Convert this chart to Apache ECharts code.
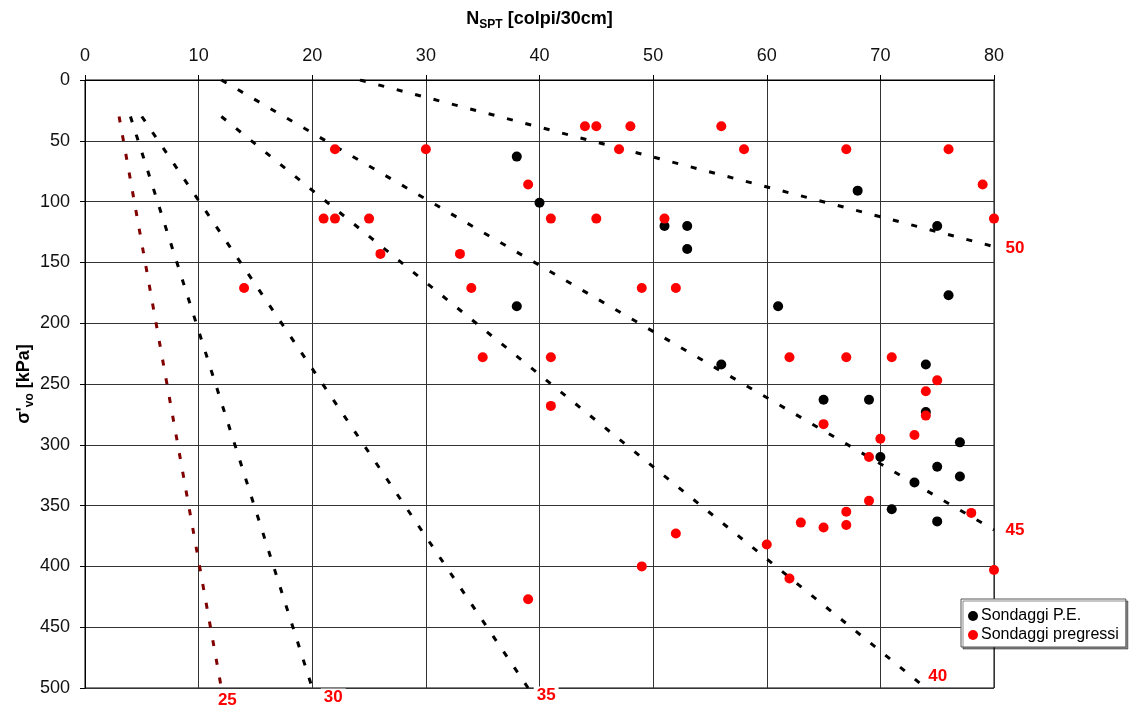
<!DOCTYPE html>
<html>
<head>
<meta charset="utf-8">
<title>NSPT - sigma'vo</title>
<script src="https://cdn.jsdelivr.net/npm/echarts@6.0.0/dist/echarts.min.js"></script>
<style>
  html, body { margin: 0; padding: 0; background: #fff; }
  #chart { width: 1129px; height: 708px; }
</style>
</head>
<body>
<div id="chart"></div>
<script>
// Axis ticks
const xTicks = [0, 10, 20, 30, 40, 50, 60, 70, 80];       // N_SPT
const yTicks = [0, 50, 100, 150, 200, 250, 300, 350, 400, 450, 500]; // sigma'vo [kPa]

// Sondaggi P.E. : [N_SPT, sigma'vo]
const sondaggiPE = [
  [38, 63], [40, 101], [68, 91], [51, 120], [53, 120], [53, 139], [75, 120],
  [76, 177], [38, 186], [61, 186], [56, 234], [74, 234], [65, 263], [69, 263],
  [74, 273], [77, 298], [70, 310], [75, 318], [77, 326], [73, 331], [71, 353],
  [75, 363]
];

// Sondaggi pregressi : [N_SPT, sigma'vo]
const sondaggiPregressi = [
  [44, 38], [45, 38], [48, 38], [56, 38],
  [22, 57], [30, 57], [47, 57], [58, 57], [67, 57], [76, 57],
  [39, 86], [79, 86],
  [21, 114], [22, 114], [25, 114], [41, 114], [45, 114], [51, 114], [80, 114],
  [26, 143], [33, 143],
  [14, 171], [34, 171], [49, 171], [52, 171],
  [35, 228], [41, 228], [62, 228], [67, 228], [71, 228],
  [75, 247], [74, 256], [41, 268], [74, 276], [65, 283], [73, 292], [70, 295],
  [69, 310], [69, 346], [67, 355], [78, 356], [63, 364], [67, 366], [65, 368],
  [52, 373], [60, 382], [49, 400], [80, 403], [62, 410], [39, 427]
];

// Friction angle reference lines : [N_SPT, sigma'vo]
const phiValues = [25, 30, 35, 40, 45, 50];
const phi25 = [[3, 30], [12, 500]];
const phi30 = [[4, 30], [20, 500]];
const phi35 = [[5, 30], [39, 500]];
const phi40 = [[12, 30], [74, 500]];
const phi45 = [[12, 0], [80, 370]];
const phi50 = [[24.2, 0], [80, 137]];
const phiCurves = [phi25, phi30, phi35, phi40, phi45, phi50];

// Presentation of each reference line and its angle label
const phiColors = ['#800000', '#000000', '#000000', '#000000', '#000000', '#000000'];
const phiLabelOffsets = [[6, 12], [21, 9], [18, 7], [12, -12], [21, 0], [21, 2]];

const FONT = "'Liberation Sans', Arial, Helvetica, sans-serif";

const chart = echarts.init(document.getElementById('chart'), null, { renderer: 'canvas' });

const series = [];

phiCurves.forEach((curve, i) => {
  series.push({
    name: 'phi ' + phiValues[i],
    type: 'line',
    data: curve,
    showSymbol: false,
    symbol: 'none',
    silent: true,
    clip: true,
    z: 3,
    lineStyle: { color: phiColors[i], width: 3, type: [6, 13], opacity: 1 }
  });
});

phiCurves.forEach((curve, i) => {
  series.push({
    name: 'label ' + phiValues[i],
    type: 'scatter',
    data: [curve[curve.length - 1]],
    symbolSize: 0,
    silent: true,
    clip: false,
    z: 6,
    itemStyle: { opacity: 1 },
    label: {
      show: true,
      formatter: String(phiValues[i]),
      position: phiLabelOffsets[i],
      align: 'center',
      verticalAlign: 'middle',
      color: '#ff0000',
      opacity: 1,
      fontFamily: FONT,
      fontWeight: 'bold',
      fontSize: 17,
      backgroundColor: '#ffffff',
      padding: [0, 3]
    }
  });
});

series.push({
  name: 'Sondaggi P.E.',
  type: 'scatter',
  data: sondaggiPE,
  symbol: 'circle',
  symbolSize: 10,
  z: 4,
  itemStyle: { color: '#000000', opacity: 1 }
});

series.push({
  name: 'Sondaggi pregressi',
  type: 'scatter',
  data: sondaggiPregressi,
  symbol: 'circle',
  symbolSize: 10,
  z: 5,
  itemStyle: { color: '#ff0000', opacity: 1 }
});

const gridLine = { show: true, lineStyle: { color: '#333333', width: 1 } };

const titleRich = {
  m: { fontFamily: FONT, fontWeight: 'bold', fontSize: 18, lineHeight: 21, verticalAlign: 'top', color: '#000' },
  s: { fontFamily: FONT, fontWeight: 'bold', fontSize: 12, lineHeight: 6, verticalAlign: 'bottom', color: '#000' }
};

const option = {
  animation: false,
  backgroundColor: '#ffffff',
  textStyle: { fontFamily: FONT },
  grid: {
    left: 85, top: 80, width: 909, height: 608,
    show: true, borderColor: '#000000', borderWidth: 1,
    backgroundColor: 'transparent'
  },
  legend: {
    data: ['Sondaggi P.E.', 'Sondaggi pregressi'],
    orient: 'vertical',
    left: 961, top: 599,
    padding: [9, 7, 4, 7],
    itemGap: 3,
    itemWidth: 10, itemHeight: 10,
    icon: 'circle',
    backgroundColor: '#ffffff',
    borderColor: '#555555', borderWidth: 1,
    shadowColor: 'rgba(0,0,0,0.45)', shadowBlur: 0, shadowOffsetX: 2, shadowOffsetY: 2,
    textStyle: { fontFamily: FONT, fontSize: 16, color: '#000000', padding: [0, 0, 0, -2] }
  },
  xAxis: {
    type: 'value',
    position: 'top',
    min: xTicks[0], max: xTicks[xTicks.length - 1], interval: xTicks[1] - xTicks[0],
    name: '{m|N}{s|SPT}{m| [colpi/30cm]}',
    nameLocation: 'middle',
    nameGap: 49,
    nameMoveOverlap: false,
    nameTextStyle: { rich: titleRich },
    axisLine: { show: true, onZero: false, lineStyle: { color: '#000', width: 1 } },
    axisTick: { show: true, inside: false, length: 5, lineStyle: { color: '#000' } },
    axisLabel: { fontFamily: FONT, fontSize: 18, color: '#111', margin: 15 },
    splitLine: gridLine
  },
  yAxis: {
    type: 'value',
    inverse: true,
    min: yTicks[0], max: yTicks[yTicks.length - 1], interval: yTicks[1] - yTicks[0],
    name: "{m|σ'}{s|vo}{m| [kPa]}",
    nameLocation: 'middle',
    nameRotate: 90,
    nameGap: 49,
    nameMoveOverlap: false,
    nameTextStyle: { rich: titleRich },
    axisLine: { show: true, onZero: false, lineStyle: { color: '#000', width: 1 } },
    axisTick: { show: true, inside: false, length: 5, lineStyle: { color: '#000' } },
    axisLabel: { fontFamily: FONT, fontSize: 18, color: '#111', margin: 15 },
    splitLine: gridLine
  },
  series: series
};

chart.setOption(option);
</script>
</body>
</html>
